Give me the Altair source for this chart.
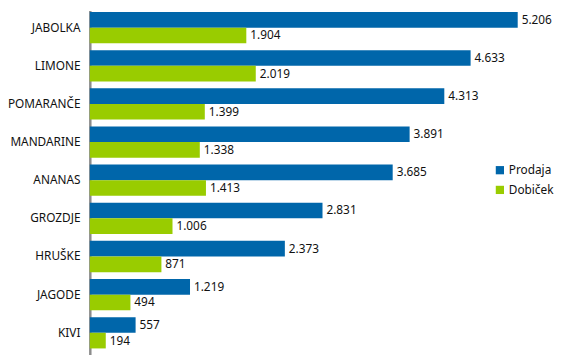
import altair as alt
import pandas as pd

categories = ["JABOLKA", "LIMONE", "POMARANČE", "MANDARINE", "ANANAS", "GROZDJE", "HRUŠKE", "JAGODE", "KIVI"]
prodaja = [5206, 4633, 4313, 3891, 3685, 2831, 2373, 1219, 557]
dobicek = [1904, 2019, 1399, 1338, 1413, 1006, 871, 494, 194]
series = ["Prodaja", "Dobiček"]
colors = ["#0066aa", "#99cc00"]

rows = []
for c, p, d in zip(categories, prodaja, dobicek):
    for s, v in zip(series, [p, d]):
        rows.append({"cat": c, "series": s, "value": v,
                     "label": f"{v:,}".replace(",", ".")})
df = pd.DataFrame(rows)

FONT = "Noto Sans"

y = alt.Y("cat:N", sort=categories, title=None,
          scale=alt.Scale(paddingInner=0.18, paddingOuter=0.1, align=0.2),
          axis=alt.Axis(domainColor="#8c8c8c", domainWidth=2.5, ticks=False,
                        labelPadding=10, labelFont=FONT, labelFontSize=12,
                        labelColor="#111111"))
yoff = alt.YOffset("series:N", sort=series, scale=alt.Scale(paddingInner=0, paddingOuter=0))
x = alt.X("value:Q", scale=alt.Scale(domain=[0, 5637], nice=False), axis=None, title=None)

bars = alt.Chart(df).mark_bar().encode(
    y=y, yOffset=yoff, x=x,
    color=alt.Color("series:N", sort=series,
                    scale=alt.Scale(domain=series, range=colors),
                    legend=alt.Legend(title=None, orient="none", legendX=410, legendY=156,
                                      symbolType="square", symbolSize=70,
                                      symbolStrokeWidth=0, labelFont=FONT,
                                      labelFontSize=12, labelColor="#111111",
                                      rowPadding=8, labelOffset=3))
)

text = alt.Chart(df).mark_text(align="left", baseline="middle", dx=4, font=FONT,
                               fontSize=12, color="#111111").encode(
    y=y, yOffset=yoff, x=x, text="label:N"
)

chart = (bars + text).properties(
    width=470, height=349,
    autosize=alt.AutoSizeParams(type="none"),
    padding={"left": 83, "top": 0, "right": 9, "bottom": 2},
).configure_view(stroke=None)

chart.save("out.html", embed_options={"renderer": "svg", "actions": False})
